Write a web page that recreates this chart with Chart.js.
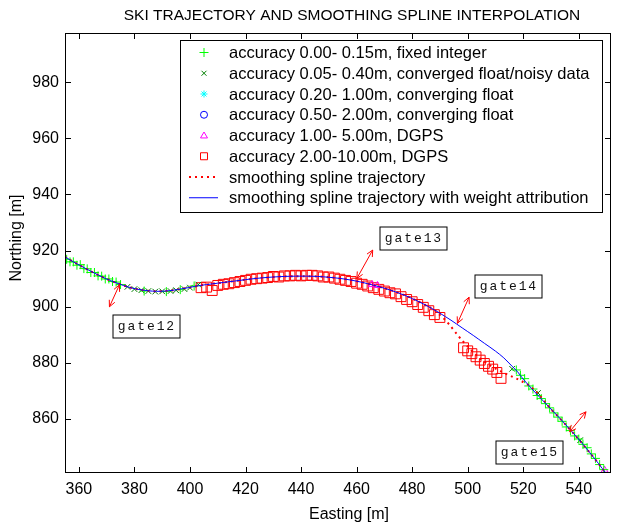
<!DOCTYPE html>
<html>
<head>
<meta charset="utf-8">
<script src="https://cdn.jsdelivr.net/npm/chart.js@4.4.0/dist/chart.umd.min.js"></script>
<style>
  html, body { margin: 0; padding: 0; background: #fff; }
</style>
</head>
<body>
<canvas id="chart" width="619" height="524"></canvas>
<script>
// axes
var xRange = [355, 551.6];
var yRange = [840.8, 997.5];
var xTicks = [360, 380, 400, 420, 440, 460, 480, 500, 520, 540];
var yTicks = [860, 880, 900, 920, 940, 960, 980];

// accuracy 0.00-0.15m, fixed integer
var fixedX = [355.6, 356.8, 358.0, 359.3, 360.5, 361.8, 363.0, 364.3, 365.6, 366.9, 368.2, 369.5, 370.8, 372.1, 373.4, 375.0,
              383.5, 391.5, 396.5, 401.5,
              517.5, 519.0, 520.5, 522.0, 523.5, 525.0, 526.5, 528.0, 529.5, 531.0, 532.5, 534.0, 535.5, 537.0, 538.5, 540.0,
              541.5, 543.0, 544.5, 546.0, 547.5, 549.0];
var fixedY = [916.9, 916.0, 916.0, 914.8, 915.0, 913.6, 913.5, 912.2, 912.2, 911.0, 910.9, 909.9, 909.9, 909.0, 908.8, 907.9,
              905.6, 905.4, 906.1, 907.4,
              877.5, 875.6, 874.4, 871.8, 870.7, 868.4, 867.3, 865.5, 864.0, 862.2, 860.7, 859.2, 857.2, 855.9, 854.0, 852.9,
              851.0, 849.8, 847.6, 846.0, 843.8, 842.0];

// accuracy 0.05-0.40m, converged float / noisy data
var floatX = [377.5, 380.0, 382.5, 385.0, 387.5, 390.0, 393.0, 395.0, 398.0, 400.0, 403.0, 516.0, 525.3, 540.5];
var floatY = [907.1, 906.3, 905.9, 905.6, 905.4, 905.5, 905.6, 905.9, 906.3, 906.8, 907.9, 877.9, 869.3, 852.5];

// accuracy 0.20-1.00m and 0.50-2.00m, converging float (none visible)
var convergingX = [];
var convergingY = [];
var converging2X = [];
var converging2Y = [];

// accuracy 1.00-5.00m, DGPS
var dgpsX = [465.5, 467.5, 549.3];
var dgpsY = [907.9, 907.6, 841.8];

// accuracy 2.00-10.00m, DGPS
var dgps10X = [404, 406, 408, 410, 412, 414, 416, 418, 420, 422, 424, 426, 428, 430, 432, 434, 436, 438, 440, 442, 444,
               446, 448, 450, 452, 454, 456, 458, 460, 462, 464, 466, 468, 470, 472, 474, 476, 478, 480, 482, 484, 486, 488, 490,
               498.5, 500, 501.5, 503, 504.5, 506, 507.5, 509, 510.5, 512];
var dgps10Y = [906.8, 907.0, 905.8, 907.6, 908.0, 908.2, 908.6, 909.0, 909.4, 909.8, 910.0, 910.2, 910.4, 910.8, 910.6,
               911.0, 911.0, 911.2, 911.0, 911.2, 911.2, 911.0, 910.6, 910.6, 910.2, 909.8, 909.4, 909.0, 908.4, 908.0, 907.4,
               906.8, 906.2, 905.6, 905.0, 904.6, 903.6, 902.6, 901.8, 900.8, 899.8, 898.6, 897.2, 896.2,
               885.4, 884.3, 883.3, 882.2, 881.0, 879.8, 878.8, 877.8, 876.6, 874.5];

// smoothing spline trajectory
var splineX = [355, 358, 361, 364, 367, 370, 373, 376, 379, 382, 385, 388, 391, 394, 397, 400, 403, 406, 410, 414, 418,
               422, 426, 430, 434, 438, 442, 446, 450, 454, 458, 462, 466, 470, 474, 478, 482, 486, 488, 490, 492, 494, 496,
               498, 500, 502, 504, 506, 508, 510, 512, 514, 516, 518, 520, 522, 524, 526, 528, 530, 532, 535, 538, 541, 544,
               547, 550];
var splineY = [917.8, 916.0, 914.4, 912.8, 911.3, 909.9, 908.7, 907.6, 906.7, 906.1, 905.7, 905.5, 905.6, 905.9, 906.4,
               906.9, 907.5, 907.9, 908.4, 908.9, 909.4, 909.9, 910.3, 910.6, 910.8, 910.9, 910.9, 910.8, 910.5, 910.1, 909.5,
               908.7, 907.7, 906.6, 905.3, 903.8, 902.0, 900.0, 898.8, 897.1, 895.2, 892.9, 890.4, 888.0, 885.8, 883.8, 882.0,
               880.4, 879.1, 878.0, 877.0, 876.0, 875.1, 874.2, 873.2, 872.0, 870.4, 868.3, 865.9, 863.5, 861.5, 858.3, 855.0,
               851.6, 848.0, 844.3, 840.4];

// smoothing spline trajectory with weight attribution
var weightedX = [355, 358, 361, 364, 367, 370, 373, 376, 379, 382, 385, 388, 391, 394, 397, 400, 403, 406, 410, 414, 418,
                 422, 426, 430, 434, 438, 442, 446, 450, 454, 458, 462, 466, 470, 474, 478, 482, 486, 490, 494, 498, 502, 506,
                 510, 513, 516, 518, 520, 523, 526, 529, 532, 535, 538, 541, 544, 547, 550];
var weightedY = [917.8, 916.0, 914.4, 912.8, 911.3, 909.9, 908.7, 907.6, 906.7, 906.1, 905.7, 905.5, 905.6, 905.9, 906.4,
                 906.9, 907.5, 907.9, 908.4, 908.9, 909.4, 909.9, 910.3, 910.6, 910.8, 910.9, 910.9, 910.8, 910.5, 910.1,
                 909.5, 908.7, 907.7, 906.6, 905.3, 903.8, 902.0, 900.0, 897.7, 895.2, 892.5, 889.8, 887.0, 884.2, 881.8,
                 878.8, 876.8, 874.2, 870.9, 867.7, 864.6, 861.5, 858.3, 855.0, 851.6, 848.0, 844.3, 840.4];

// gate annotations (data coordinates)
var gateNames = ['gate12', 'gate13', 'gate14', 'gate15'];
var gateTipX = [374.6, 460.1, 496.3, 536.7];
var gateTipY = [907.8, 910.1, 894.1, 855.5];
var gateTailX = [371.0, 465.8, 500.5, 542.6];
var gateTailY = [900.0, 920.2, 903.4, 862.6];
var gateBoxX = [384.1, 480.4, 514.5, 522.1];
var gateBoxY = [893.2, 924.5, 907.3, 848.4];

var FONT = '"Liberation Sans", Arial, Helvetica, sans-serif';
var MONO = '"Liberation Mono", "Courier New", monospace';

function zip(xs, ys) {
    return xs.map(function (x, i) { return { x: x, y: ys[i] }; });
}

function drawMarker(ctx, style, color, x, y, r) {
    ctx.save();
    ctx.strokeStyle = color;
    ctx.lineWidth = 1;
    ctx.beginPath();
    var d = r * Math.SQRT1_2;
    if (style === 'cross' || style === 'star') {
        ctx.moveTo(x - r, y); ctx.lineTo(x + r, y);
        ctx.moveTo(x, y - r); ctx.lineTo(x, y + r);
    }
    if (style === 'crossRot' || style === 'star') {
        ctx.moveTo(x - d, y - d); ctx.lineTo(x + d, y + d);
        ctx.moveTo(x - d, y + d); ctx.lineTo(x + d, y - d);
    }
    if (style === 'circle') {
        ctx.arc(x, y, r, 0, Math.PI * 2);
    }
    if (style === 'triangle') {
        ctx.moveTo(x, y - r); ctx.lineTo(x + r, y + r * 0.7); ctx.lineTo(x - r, y + r * 0.7); ctx.closePath();
    }
    if (style === 'rect') {
        ctx.rect(x - r, y - r, 2 * r, 2 * r);
    }
    ctx.stroke();
    ctx.restore();
}

function arrowHead(ctx, fx, fy, tx, ty) {
    var a = Math.atan2(ty - fy, tx - fx), len = 7, w = 0.45;
    ctx.beginPath();
    ctx.moveTo(tx - len * Math.cos(a - w), ty - len * Math.sin(a - w));
    ctx.lineTo(tx, ty);
    ctx.lineTo(tx - len * Math.cos(a + w), ty - len * Math.sin(a + w));
    ctx.stroke();
}

var matlabFrame = {
    id: 'matlabFrame',
    afterDatasetsDraw: function (chart) {
        var ctx = chart.ctx, xs = chart.scales.x, ys = chart.scales.y;
        // gate arrows and labels
        ctx.save();
        ctx.strokeStyle = '#ff0000';
        ctx.lineWidth = 1;
        for (var i = 0; i < gateNames.length; i++) {
            var x1 = xs.getPixelForValue(gateTipX[i]), y1 = ys.getPixelForValue(gateTipY[i]);
            var x2 = xs.getPixelForValue(gateTailX[i]), y2 = ys.getPixelForValue(gateTailY[i]);
            ctx.beginPath(); ctx.moveTo(x1, y1); ctx.lineTo(x2, y2); ctx.stroke();
            arrowHead(ctx, x2, y2, x1, y1);
            arrowHead(ctx, x1, y1, x2, y2);
        }
        ctx.restore();
        ctx.save();
        ctx.font = '13px ' + MONO;
        ctx.textBaseline = 'middle';
        ctx.textAlign = 'center';
        for (var j = 0; j < gateNames.length; j++) {
            var cx = Math.round(xs.getPixelForValue(gateBoxX[j])), cy = Math.round(ys.getPixelForValue(gateBoxY[j]));
            var bw = 67, bh = 23;
            ctx.fillStyle = '#fff';
            ctx.fillRect(cx - bw / 2, cy - bh / 2, bw, bh);
            ctx.strokeStyle = '#000';
            ctx.lineWidth = 1;
            ctx.strokeRect(cx - bw / 2 + 0.5, cy - bh / 2 + 0.5, bw, bh);
            ctx.fillStyle = '#111';
            var name = gateNames[j], step = 9.7;
            for (var k = 0; k < name.length; k++) {
                ctx.fillText(name[k], cx + (k - (name.length - 1) / 2) * step, cy + 1);
            }
        }
        ctx.restore();
    },
    afterDraw: function (chart) {
        var ctx = chart.ctx, a = chart.chartArea, xs = chart.scales.x, ys = chart.scales.y;
        ctx.save();
        ctx.strokeStyle = '#000';
        ctx.lineWidth = 1;
        ctx.strokeRect(a.left + 0.5, a.top + 0.5, a.right - a.left - 1, a.bottom - a.top - 1);
        ctx.beginPath();
        xTicks.forEach(function (v) {
            var p = Math.round(xs.getPixelForValue(v)) + 0.5;
            ctx.moveTo(p, a.bottom); ctx.lineTo(p, a.bottom - 6);
            ctx.moveTo(p, a.top); ctx.lineTo(p, a.top + 6);
        });
        yTicks.forEach(function (v) {
            var p = Math.round(ys.getPixelForValue(v)) + 0.5;
            ctx.moveTo(a.left, p); ctx.lineTo(a.left + 6, p);
            ctx.moveTo(a.right, p); ctx.lineTo(a.right - 6, p);
        });
        ctx.stroke();

        // legend
        var lw = 422, lh = 172;
        var lx = a.right - 9 - lw, ly = a.top + 7;
        ctx.fillStyle = '#fff';
        ctx.fillRect(lx, ly, lw, lh);
        ctx.strokeRect(lx + 0.5, ly + 0.5, lw, lh);
        ctx.font = '16.5px ' + FONT;
        ctx.textBaseline = 'middle';
        ctx.textAlign = 'left';
        chart.data.datasets.forEach(function (ds, i) {
            var ry = ly + 12.5 + i * 20.75;
            if (ds.showLine) {
                ctx.save();
                ctx.strokeStyle = ds.borderColor;
                ctx.lineWidth = ds.borderWidth;
                ctx.setLineDash(ds.borderDash || []);
                ctx.beginPath(); ctx.moveTo(lx + 9, ry); ctx.lineTo(lx + 38, ry); ctx.stroke();
                ctx.restore();
            } else {
                drawMarker(ctx, ds.pointStyle, ds.borderColor, lx + 24, ry, ds.legendSize);
            }
            ctx.fillStyle = '#000';
            ctx.fillText(ds.label, lx + 49, ry + 1);
        });

        // titles
        ctx.fillStyle = '#000';
        ctx.textAlign = 'center';
        ctx.font = '15.5px ' + FONT;
        ctx.fillText('SKI TRAJECTORY AND SMOOTHING SPLINE INTERPOLATION', 352, 16);
        ctx.font = '16px ' + FONT;
        ctx.fillText('Easting [m]', 349, 515);
        ctx.translate(17, 238);
        ctx.rotate(-Math.PI / 2);
        ctx.fillText('Northing [m]', 0, 0);
        ctx.restore();
    }
};

function markerSet(label, xs, ys, style, color, radius, legendSize) {
    return {
        label: label, data: zip(xs, ys), showLine: false,
        pointStyle: style, pointRadius: radius, pointHoverRadius: radius,
        borderColor: color, backgroundColor: 'rgba(0,0,0,0)', pointBorderWidth: 1,
        legendSize: legendSize, order: 2
    };
}

new Chart(document.getElementById('chart').getContext('2d'), {
    type: 'scatter',
    data: {
        datasets: [
            markerSet('accuracy 0.00- 0.15m, fixed integer', fixedX, fixedY, 'cross', '#00ff00', 4.5, 4.5),
            markerSet('accuracy 0.05- 0.40m, converged float/noisy data', floatX, floatY, 'crossRot', '#008000', 4, 3.5),
            markerSet('accuracy 0.20- 1.00m, converging float', convergingX, convergingY, 'star', '#00ffff', 4, 3.5),
            markerSet('accuracy 0.50- 2.00m, converging float', converging2X, converging2Y, 'circle', '#0000ff', 4, 3.5),
            markerSet('accuracy 1.00- 5.00m, DGPS', dgpsX, dgpsY, 'triangle', '#ff00ff', 4, 3.5),
            markerSet('accuracy 2.00-10.00m, DGPS', dgps10X, dgps10Y, 'rect', '#ff0000', 7, 3.5),
            {
                label: 'smoothing spline trajectory', data: zip(splineX, splineY), showLine: true,
                borderColor: '#ff0000', borderWidth: 2, borderDash: [2, 4], pointRadius: 0,
                tension: 0.3, order: 1
            },
            {
                label: 'smoothing spline trajectory with weight attribution', data: zip(weightedX, weightedY), showLine: true,
                borderColor: '#0000ff', borderWidth: 1, pointRadius: 0, tension: 0.3, order: 0
            }
        ]
    },
    options: {
        responsive: false,
        animation: false,
        events: [],
        layout: { padding: { top: 33, right: 2, left: 0, bottom: 0 } },
        plugins: { legend: { display: false }, tooltip: { enabled: false }, title: { display: false } },
        scales: {
            x: {
                type: 'linear', min: xRange[0], max: xRange[1],
                grid: { display: false, drawTicks: false }, border: { display: false },
                afterBuildTicks: function (s) { s.ticks = xTicks.map(function (v) { return { value: v }; }); },
                afterFit: function (s) { s.height = 51; },
                ticks: { font: { family: FONT, size: 16 }, color: '#000', padding: 7, maxRotation: 0, autoSkip: false }
            },
            y: {
                type: 'linear', min: yRange[0], max: yRange[1],
                grid: { display: false, drawTicks: false }, border: { display: false },
                afterBuildTicks: function (s) { s.ticks = yTicks.map(function (v) { return { value: v }; }); },
                afterFit: function (s) { s.width = 65; },
                ticks: { font: { family: FONT, size: 16 }, color: '#000', padding: 6, autoSkip: false }
            }
        }
    },
    plugins: [matlabFrame]
});
</script>
</body>
</html>
